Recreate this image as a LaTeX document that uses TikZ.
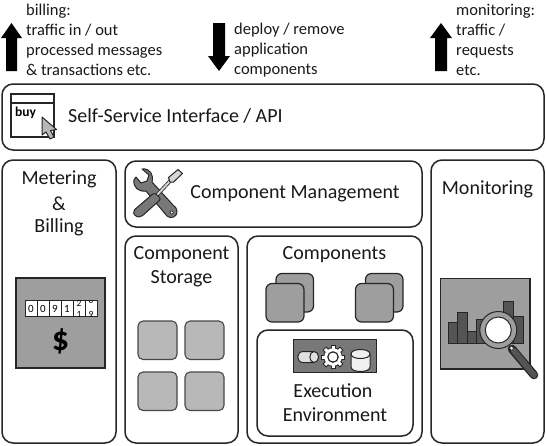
\documentclass[tikz,border=0pt]{standalone}
\usepackage{fontspec}
\setmainfont{Carlito}
\usetikzlibrary{shapes.geometric,arrows.meta}
\definecolor{midg}{gray}{0.62}
\definecolor{darkg}{gray}{0.47}
\definecolor{barg}{gray}{0.33}
\definecolor{lightg}{gray}{0.72}
\tikzset{
  panel/.style={draw=black!85,line width=1.5pt,rounded corners=11pt,fill=white},
  bigarrow/.style={fill=black,draw=none},
  label/.style={font=\fontsize{20}{24}\selectfont,inner sep=0pt,text=black!90},
  note/.style={font=\fontsize{16.5}{20}\selectfont,inner sep=0pt,anchor=base west,text=black!90},
  icon/.style={draw=black!85,line width=1.2pt},
  thin outline/.style={line width=1pt,draw=black!85,line join=round},
}
\begin{document}
\begin{tikzpicture}[x=1pt,y=-1pt]
\useasboundingbox (0,0) rectangle (546,445);
% arrows
\fill[bigarrow] (6,71)--(17,71)--(17,38)--(22,38)--(11.5,23)--(1,38)--(6,38)--cycle;
\fill[bigarrow] (213,23)--(225,23)--(225,56)--(230,56)--(219,71)--(208,56)--(213,56)--cycle;
\fill[bigarrow] (435,71)--(447,71)--(447,38)--(452,38)--(441,23)--(430,38)--(435,38)--cycle;
% notes
\node[note] (n1) at (26,15) {billing:};
\node[note] (n2) at (26,35) {traffic in / out};
\node[note] (n3) at (26,55) {processed messages};
\node[note] (n4) at (26,75) {\& transactions etc.};
\node[note] (d1) at (234,34) {deploy / remove};
\node[note] (d2) at (234,54) {application};
\node[note] (d3) at (234,74) {components};
\node[note] (m1) at (456,15) {monitoring:};
\node[note] (m2) at (456,35) {traffic /};
\node[note] (m3) at (456,55) {requests};
\node[note] (m4) at (456,75) {etc.};
% panels
\draw[panel] (2,84) rectangle (544,150);
\draw[panel] (2,160) rectangle (116,443);
\draw[panel] (125,161) rectangle (422,227);
\draw[panel] (125,236) rectangle (238,443);
\draw[panel] (247,236) rectangle (422,443);
\draw[panel] (257,330) rectangle (413,436);
\draw[panel] (431,160) rectangle (544,443);
% labels
\node[label,anchor=base west] (api) at (68,122) {Self-Service Interface / API};
\node[label] (mb1) at (59,179) {Metering};
\node[label] (mb2) at (59,203.5) {\&};
\node[label] (mb3) at (59,227.5) {Billing};
\node[label] (cm) at (295,194) {Component Management};
\node[label] (cs1) at (181.5,255) {Component};
\node[label] (cs2) at (181.5,279) {Storage};
\node[label] (co) at (334.5,255) {Components};
\node[label] (ee1) at (333,391) {Execution};
\node[label] (ee2) at (335,415) {Environment};
\node[label] (mo) at (487.5,189.5) {Monitoring};
% buy window
\draw[icon,fill=white] (11,94) rectangle (54,137);
\draw[icon] (11,103) -- (54,103);
\node[font=\bfseries\fontsize{13.5}{14}\selectfont,anchor=base west,inner sep=0pt] (buy) at (15,116) {buy};
\draw[thin outline,fill=lightg] (42,117)--(42,135)--(46,132)--(50,139)--(54,137)--(50.5,130.5)--(56.5,129.5)--cycle;
% meter
\draw[icon,fill=midg] (16,278) rectangle (105,368);
\draw[line width=1pt,fill=white,draw=black!85] (25,300) rectangle (97,316);
\foreach \x in {37,49,61,73,85} \draw[line width=.8pt,draw=black!85] (\x,300)--(\x,316);
\foreach \x/\d in {31/0,43/0,55/9,67/1} \node[font=\fontsize{11}{12}\selectfont,inner sep=0pt] (dg\x) at (\x,308.5) {\d};
\begin{scope}
\clip (73,300) rectangle (97,316);
\node[font=\fontsize{9.5}{10}\selectfont,inner sep=0pt] (d2a) at (79,303) {2};
\node[font=\fontsize{9.5}{10}\selectfont,inner sep=0pt] (d2b) at (79,314) {1};
\node[font=\fontsize{9.5}{10}\selectfont,inner sep=0pt] (d3a) at (91,300.5) {0};
\node[font=\fontsize{9.5}{10}\selectfont,inner sep=0pt] (d3b) at (91,314.5) {9};
\end{scope}
\node[font=\bfseries\fontsize{34}{34}\selectfont,inner sep=0pt] (dollar) at (60.5,341) {\$};
% wrench
\draw[thin outline,fill=darkg] (134,180) .. controls (133,187) and (138,192) .. (146,191) -- (167,216) .. controls (171,220) and (178,216) .. (177,211) .. controls (177,208) and (175,207) .. (173,205) -- (152,182) .. controls (154,175) and (150,168) .. (142,169) -- (149,175) -- (147,181) -- (141,183) -- (136,177) -- cycle;
\draw[draw=black!85,fill=white,line width=.6pt] (171.7,212.5) circle (1.8);
% screwdriver
\draw[line width=3.6pt,draw=black!85] (157,195) -- (171,180);
\draw[line width=2pt,draw=lightg!60!white] (157,195) -- (171,180);
\draw[thin outline,fill=lightg!60!white] (168.5,177.5)--(178,169.5)--(182.5,173.5)--(173.5,182)--(170,182)--cycle;
\draw[thin outline,fill=darkg,rounded corners=2pt] (154.5,192.5)--(161,199)--(141,217)--(135,216.5)--(133,211)--cycle;
% storage squares
\foreach \n/\x/\y in {a/138/321,b/185/321,c/138/372,d/185/372}
  \draw[draw=black!72,line width=1.1pt,fill=lightg,rounded corners=5pt] (\x,\y) rectangle ++(39,38.5);
% component stacks
\foreach \dx in {0,89.5} {
  \draw[icon,fill=midg,rounded corners=6pt] (276+\dx,273.5) rectangle (313.5+\dx,312);
  \draw[icon,fill=midg,rounded corners=6pt] (266+\dx,283.5) rectangle (304+\dx,322);
}
% execution icon
\draw[line width=1pt,draw=black!85,fill=darkg] (293.5,339) rectangle (376,372.5);
% horizontal cylinder
\draw[thin outline,fill=black!12] (303,351.5) -- (314,351.5) .. controls (320,351.5) and (320,362.5) .. (314,362.5) -- (303,362.5) .. controls (296,362.5) and (296,351.5) .. (303,351.5) -- cycle;
\draw[thin outline] (314,351.5) .. controls (308.5,351.5) and (308.5,362.5) .. (314,362.5);
% gear
\foreach \a in {0,45,...,315} \draw[draw=black!85,line width=5pt] ([shift={(\a:8)}]333,357) -- ([shift={(\a:12.2)}]333,357);
\fill[black!85] (333,357) circle (9.7);
\foreach \a in {0,45,...,315} \draw[draw=white,line width=3pt] ([shift={(\a:8)}]333,357) -- ([shift={(\a:11.3)}]333,357);
\fill[white] (333,357) circle (8.8);
\draw[line width=1.2pt,draw=black!85,fill=white] (333,357) circle (5.2);
% database
\draw[thin outline,fill=black!6] (351,354) .. controls (351,348) and (370,348) .. (370,354) -- (370,367) .. controls (370,373) and (351,373) .. (351,367) -- cycle;
\draw[thin outline] (351,354) .. controls (351,360) and (370,360) .. (370,354);
% monitoring icon
\draw[icon,fill=midg] (440.5,278.5) rectangle (530,369);
\foreach \a/\b/\t in {448/457/322,457/467/312,467/476/331,476/485/319,503/513/301,513/523/316}
  \draw[line width=1pt,draw=black!85,fill=barg] (\a,\t) rectangle (\b,343);
\draw[line cap=round,line width=8.5pt,draw=black!85] (512,349) -- (534,375);
\draw[line cap=round,line width=6pt,draw=barg] (514,351) -- (534,375);
\draw[line width=1pt,draw=black!85,fill=midg] (498.3,330) circle (18.5);
\draw[line width=1pt,draw=black!85,fill=white] (498.3,330) circle (13);
\fill[white] (511.5,348) circle (1.5);
\end{tikzpicture}
\end{document}
